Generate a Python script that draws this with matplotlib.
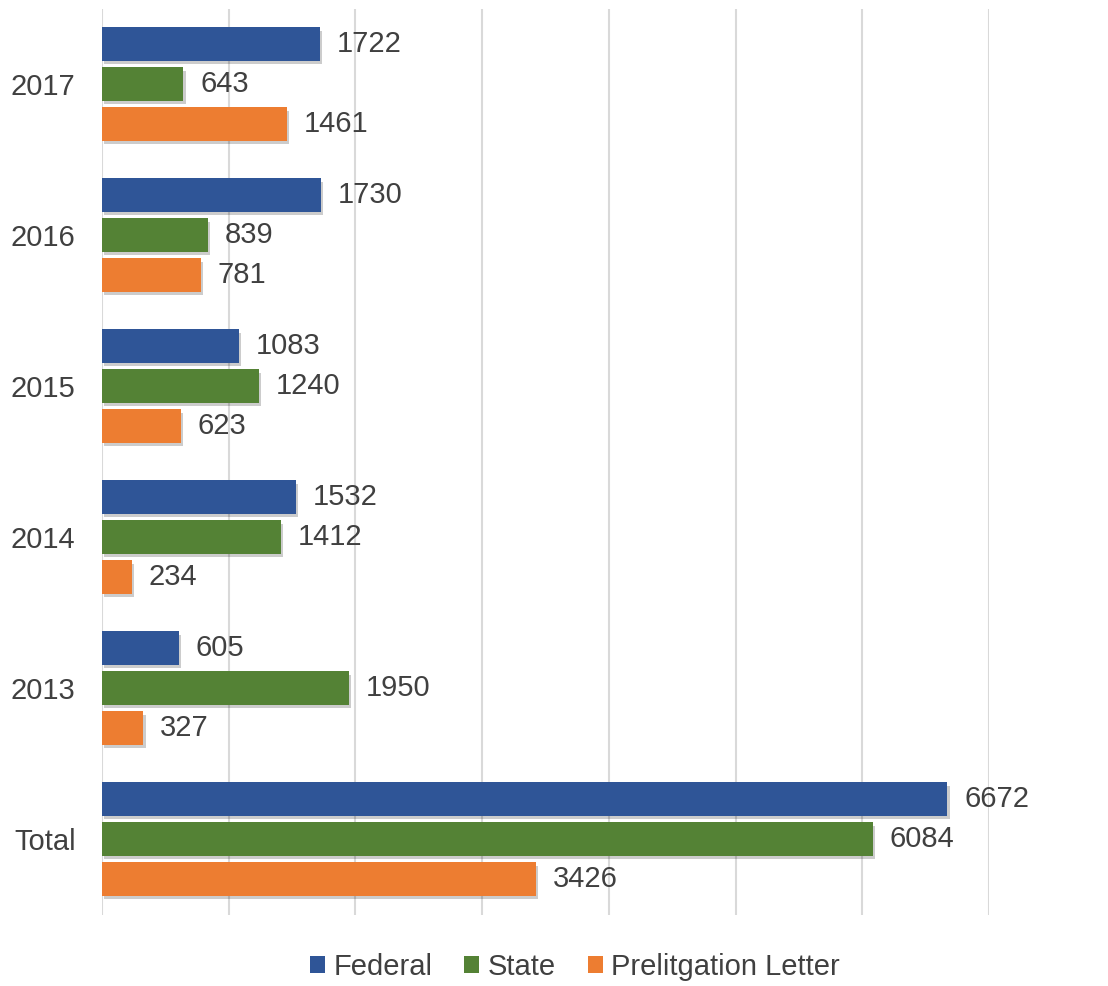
import numpy as np
import matplotlib.pyplot as plt
import matplotlib.patheffects as pe
from matplotlib.patches import Patch

categories = ['2017', '2016', '2015', '2014', '2013', 'Total']
federal = [1722, 1730, 1083, 1532, 605, 6672]
state = [643, 839, 1240, 1412, 1950, 6084]
prelit = [1461, 781, 623, 234, 327, 3426]
series = [('Federal', federal, '#2F5597'),
          ('State', state, '#548235'),
          ('Prelitgation Letter', prelit, '#ED7D31')]


def main():
    plt.rcParams['font.family'] = ['Liberation Sans', 'DejaVu Sans']
    fig = plt.figure(figsize=(11.08, 9.86), dpi=100)
    ax = fig.add_axes([102 / 1108, 1 - 914.5 / 986, 887 / 1108, 906 / 986])

    y = np.arange(len(categories))
    pitch = 0.265
    height = 0.22
    shadow = [pe.SimplePatchShadow(offset=(1.5, -2.5), shadow_rgbFace='k', alpha=0.2), pe.Normal()]
    handles = []
    for i, (name, vals, color) in enumerate(series):
        pos = y + (i - 1) * pitch
        bars = ax.barh(pos, vals, height=height, color=color, zorder=3)
        for b in bars:
            b.set_path_effects(shadow)
        for p, v in zip(pos, vals):
            ax.annotate(str(v), (v, p), xytext=(12, 0), textcoords='offset points',
                        va='center', ha='left', fontsize=21, color='#404040')
        handles.append(Patch(facecolor=color, label=name))

    ax.set_xlim(0, 7000)
    ax.set_ylim(len(categories) - 0.5, -0.5)
    ax.set_xticks(np.arange(0, 7001, 1000))
    ax.set_xticklabels([])
    ax.tick_params(axis='x', length=0)
    ax.set_yticks(y)
    ax.set_yticklabels(categories, fontsize=21, color='#404040')
    ax.tick_params(axis='y', length=0, pad=19)
    ax.grid(axis='x', color='#d9d9d9', linewidth=1.5, zorder=0)
    for s in ax.spines.values():
        s.set_visible(False)

    fig.legend(handles=handles, loc='center', bbox_to_anchor=(575 / 1108, 1 - 967 / 986),
               ncol=3, frameon=False, fontsize=21, handlelength=0.5, handleheight=0.5,
               handletextpad=0.3, columnspacing=1.1, labelcolor='#404040')
    fig.savefig('out.png', dpi=100)


if __name__ == '__main__':
    main()
